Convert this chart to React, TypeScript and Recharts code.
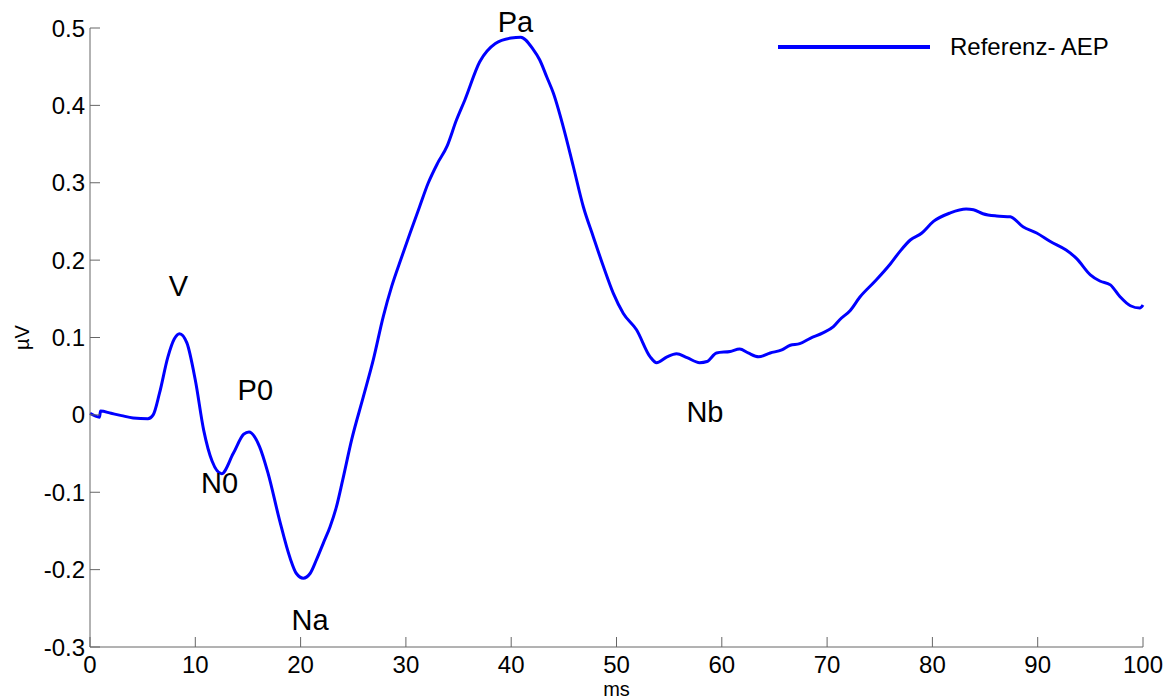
import { LineChart, Line, XAxis, YAxis, ReferenceDot, Legend } from 'recharts';

// AEP waveform, time in ms and amplitude in µV
const timeMs = [
  0, 0.9, 1.0, 2.0, 3.0, 4.1, 5.5, 6.0, 6.6, 7.4, 8.0, 8.5, 9.2, 10.0, 10.8, 11.6, 12.5, 13.6, 14.6, 15.1,
  16.1, 16.9, 18.0, 19.0, 19.6, 20.25, 20.9, 21.5, 22.15, 22.8, 23.4, 24.0, 24.85, 25.96, 26.9, 27.85, 28.65,
  29.6, 30.4, 31.3, 32.1, 33.0, 33.9, 34.8, 35.6, 37.0, 38.5, 40.0, 40.9, 42.1, 42.7, 43.4, 44.0, 44.95, 45.9,
  46.85, 47.8, 48.75, 49.7, 50.65, 51.9, 53.2, 53.8, 54.8, 55.7, 56.7, 57.9, 58.6, 59.5, 60.8, 61.7, 62.5,
  63.5, 64.6, 65.7, 66.5, 67.4, 68.4, 69.6, 70.6, 71.2, 72.2, 73.1, 74.5, 76.0, 76.9, 77.9, 79.0, 80.1, 81.7,
  83.2, 83.9, 84.8, 86.1, 87.4, 88.6, 89.9, 91.2, 92.7, 93.7, 95.0, 95.9, 96.9, 97.8, 98.8, 99.7, 100,
];
const amplitude = [
  0.002, -0.003, 0.005, 0.002, -0.001, -0.004, -0.005, 0.0, 0.028, 0.075, 0.098, 0.105, 0.093, 0.045, -0.02,
  -0.06, -0.076, -0.05, -0.025, -0.022, -0.041, -0.075, -0.136, -0.185, -0.205, -0.211, -0.205, -0.1875,
  -0.166, -0.1445, -0.119, -0.084, -0.032, 0.0235, 0.071, 0.127, 0.166, 0.204, 0.235, 0.269, 0.299, 0.325,
  0.347, 0.381, 0.407, 0.456, 0.48, 0.487, 0.488, 0.472, 0.459, 0.436, 0.416, 0.372, 0.321, 0.269, 0.23,
  0.192, 0.157, 0.131, 0.11, 0.075, 0.0675, 0.075, 0.079, 0.074, 0.0675, 0.069, 0.08, 0.082, 0.085, 0.08,
  0.075, 0.08, 0.084, 0.09, 0.092, 0.099, 0.106, 0.114, 0.123, 0.135, 0.152, 0.172, 0.195, 0.211, 0.226,
  0.235, 0.25, 0.261, 0.266, 0.265, 0.26, 0.257, 0.256, 0.243, 0.235, 0.224, 0.213, 0.202, 0.181, 0.173,
  0.168, 0.153, 0.141, 0.138, 0.142,
];

// peak names and where they are written
const peakNames = ['V', 'P0', 'N0', 'Na', 'Pa', 'Nb'];
const peakLabelX = [8.4, 15.7, 12.3, 20.9, 40.4, 58.4];
const peakLabelY = [0.167, 0.032, -0.088, -0.265, 0.508, 0.004];

const xTicks = [0, 10, 20, 30, 40, 50, 60, 70, 80, 90, 100];
const yTicks = [-0.3, -0.2, -0.1, 0, 0.1, 0.2, 0.3, 0.4, 0.5];

const seriesName = 'Referenz- AEP';

const data = timeMs.map((t, i) => ({ t, v: amplitude[i] }));

const FONT = 'Liberation Sans, Arial, sans-serif';
const AXIS = '#666';

function YTick({ x, y, payload }: any) {
  const v = payload.value;
  const label = v === 0 ? '0' : String(Math.round(v * 10) / 10);
  return (
    <g>
      <line x1={x + 5} x2={x + 15} y1={y} y2={y} stroke={AXIS} strokeWidth={1} />
      <text x={x} y={y} textAnchor="end" dominantBaseline="central" fontSize={24} fontFamily={FONT} fill="#000">
        {label}
      </text>
    </g>
  );
}

function XTick({ x, y, payload }: any) {
  return (
    <g>
      <line x1={x} x2={x} y1={y} y2={y - 10} stroke={AXIS} strokeWidth={1} />
      <text x={x} y={y + 17} textAnchor="middle" dominantBaseline="central" fontSize={24} fontFamily={FONT} fill="#000">
        {payload.value}
      </text>
    </g>
  );
}

function LegendBox() {
  return (
    <div style={{ display: 'flex', alignItems: 'center', fontFamily: FONT, fontSize: 24 }}>
      <div style={{ width: 152, height: 4, background: '#0000ff', marginRight: 20 }} />
      <span style={{ color: '#000' }}>{seriesName}</span>
    </div>
  );
}

export default function App() {
  return (
    <div style={{ position: 'absolute', left: 0, top: 0, background: '#fff' }}>
      <LineChart width={1171} height={699} data={data} margin={{ top: 28, right: 28, left: 0, bottom: 0 }}>
        <XAxis
          dataKey="t"
          type="number"
          domain={[0, 100]}
          ticks={xTicks}
          height={52}
          tickSize={0}
          tickMargin={0}
          tickLine={false}
          tick={<XTick />}
          stroke={AXIS}
          label={{
            content: ({ viewBox }: any) => (
              <text
                x={viewBox.x + viewBox.width / 2}
                y={689}
                textAnchor="middle"
                dominantBaseline="central"
                fontSize={20}
                fontFamily={FONT}
                fill="#000"
              >
                ms
              </text>
            ),
          }}
        />
        <YAxis
          type="number"
          domain={[-0.3, 0.5]}
          ticks={yTicks}
          width={90}
          tickSize={0}
          tickMargin={5}
          tickLine={false}
          tick={<YTick />}
          stroke={AXIS}
          allowDataOverflow
          label={{
            content: ({ viewBox }: any) => (
              <text
                x={22}
                y={viewBox.y + viewBox.height / 2}
                transform={`rotate(-90 22 ${viewBox.y + viewBox.height / 2})`}
                textAnchor="middle"
                dominantBaseline="central"
                fontSize={20}
                fontFamily={FONT}
                fill="#000"
              >
                µV
              </text>
            ),
          }}
        />
        <Legend
          layout="horizontal"
          verticalAlign="middle"
          align="center"
          content={<LegendBox />}
          wrapperStyle={{ top: 33, left: 778, width: 'auto' }}
        />
        <Line
          type="monotone"
          dataKey="v"
          name={seriesName}
          stroke="#0000ff"
          strokeWidth={3}
          dot={false}
          isAnimationActive={false}
        />
        {peakNames.map((name, i) => (
          <ReferenceDot
            key={name}
            x={peakLabelX[i]}
            y={peakLabelY[i]}
            r={1}
            fill="none"
            stroke="none"
            ifOverflow="visible"
            label={{ value: name, position: 'center', fontSize: 29, fontFamily: FONT, fill: '#000' }}
          />
        ))}
      </LineChart>
    </div>
  );
}
